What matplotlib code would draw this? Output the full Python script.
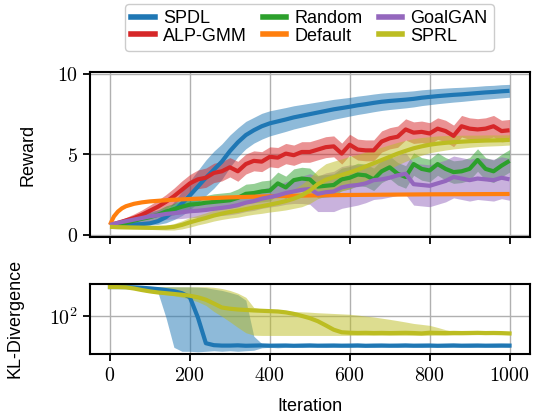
import numpy as np
import matplotlib
matplotlib.use("Agg")
import matplotlib.pyplot as plt
from matplotlib.ticker import FuncFormatter, FixedLocator, NullLocator
from matplotlib.lines import Line2D

plt.rcParams['font.family'] = ['Liberation Sans', 'DejaVu Sans']
plt.rcParams['mathtext.fontset'] = 'cm'

iterations = np.arange(0, 1001, 20)

spdl_mean = [0.62, 0.63, 0.64, 0.65, 0.67, 0.72, 0.85, 1.1, 1.5, 1.95, 2.45, 3.0, 3.55, 4.05, 4.55,
             5.2, 5.75, 6.2, 6.5, 6.75, 6.93, 7.05, 7.17, 7.3, 7.4, 7.5, 7.6, 7.7, 7.8, 7.88, 7.96,
             8.05, 8.12, 8.2, 8.27, 8.32, 8.36, 8.4, 8.45, 8.52, 8.57, 8.62, 8.66, 8.7, 8.73, 8.77,
             8.81, 8.85, 8.88, 8.92, 8.95]
spdl_std = [0.05, 0.06, 0.07, 0.08, 0.09, 0.1, 0.2, 0.35, 0.55, 0.75, 0.9, 1.0, 1.1, 1.15, 1.1,
            1.0, 0.9, 0.85, 0.8, 0.8, 0.78, 0.76, 0.74, 0.72, 0.7, 0.68, 0.66, 0.64, 0.62, 0.6, 0.58,
            0.57, 0.56, 0.55, 0.54, 0.53, 0.52, 0.51, 0.5, 0.49, 0.48, 0.47, 0.46, 0.45, 0.44, 0.43,
            0.42, 0.42, 0.41, 0.41, 0.4]

alp_mean = [0.62, 0.75, 0.9, 1.05, 1.25, 1.5, 1.75, 2.05, 2.4, 2.8, 3.2, 3.45, 3.55, 3.85, 3.95,
            4.2, 3.95, 4.4, 4.6, 4.55, 4.85, 4.8, 5.05, 4.95, 5.15, 5.15, 5.3, 5.45, 5.5, 5.05, 5.6,
            5.3, 5.25, 5.25, 5.8, 6.0, 6.1, 6.55, 6.35, 6.4, 6.3, 6.6, 6.45, 6.15, 6.75, 6.6, 6.55,
            6.6, 6.75, 6.45, 6.5]
alp_std = [0.05, 0.12, 0.18, 0.25, 0.3, 0.35, 0.4, 0.45, 0.5, 0.55, 0.55, 0.58, 0.6, 0.6, 0.6,
           0.6, 0.62, 0.62, 0.62, 0.62, 0.62, 0.63, 0.63, 0.63, 0.64, 0.64, 0.64, 0.65, 0.65, 0.65, 0.65,
           0.65, 0.65, 0.65, 0.66, 0.66, 0.66, 0.66, 0.67, 0.67, 0.67, 0.67, 0.67, 0.67, 0.67, 0.67,
           0.67, 0.67, 0.67, 0.67, 0.67]

random_mean = [0.6, 0.65, 0.75, 0.88, 1.0, 1.1, 1.25, 1.45, 1.6, 1.75, 1.88, 1.92, 2.0, 2.05, 2.1,
               2.15, 2.3, 2.55, 2.6, 2.7, 2.75, 3.2, 2.95, 3.4, 3.5, 3.45, 3.0, 3.05, 3.1, 3.45, 3.55,
               3.75, 3.7, 3.45, 3.95, 4.2, 3.8, 3.6, 4.4, 4.1, 4.0, 4.4, 4.1, 3.9, 3.95, 4.1, 4.65,
               4.1, 3.95, 4.3, 4.6]
random_std = [0.05, 0.1, 0.15, 0.2, 0.25, 0.3, 0.3, 0.35, 0.35, 0.4, 0.4, 0.45, 0.45, 0.5, 0.5,
              0.5, 0.55, 0.6, 0.6, 0.65, 0.65, 0.7, 0.7, 0.7, 0.7, 0.7, 0.7, 0.7, 0.7, 0.7, 0.7,
              0.7, 0.7, 0.7, 0.7, 0.7, 0.7, 0.7, 0.7, 0.7, 0.7, 0.7, 0.7, 0.7, 0.7, 0.7, 0.7,
              0.7, 0.7, 0.7, 0.7]

goalgan_mean = [0.62, 0.75, 0.85, 0.95, 1.05, 1.15, 1.22, 1.3, 1.35, 1.4, 1.47, 1.5, 1.55, 1.62, 1.68,
                1.75, 1.85, 2.0, 2.1, 2.25, 2.35, 2.45, 2.6, 2.7, 2.8, 2.85, 2.55, 2.65, 2.7, 2.95, 3.05,
                3.1, 3.2, 3.4, 3.45, 3.55, 3.7, 3.8, 3.15, 3.1, 3.05, 3.2, 3.35, 3.6, 3.5, 3.4, 3.5,
                3.45, 3.4, 3.55, 3.45]
goalgan_std = [0.05, 0.1, 0.15, 0.2, 0.25, 0.3, 0.32, 0.34, 0.36, 0.38, 0.4, 0.42, 0.44, 0.46, 0.48,
               0.5, 0.52, 0.55, 0.58, 0.6, 0.62, 0.65, 0.7, 0.75, 0.85, 0.95, 1.1, 1.2, 1.25, 1.3, 1.3,
               1.25, 1.2, 1.2, 1.2, 1.2, 1.25, 1.3, 1.3, 1.3, 1.3, 1.3, 1.3, 1.3, 1.3, 1.3, 1.3,
               1.3, 1.3, 1.3, 1.3]

sprl_mean = [0.5, 0.48, 0.47, 0.46, 0.45, 0.44, 0.44, 0.45, 0.5, 0.62, 0.78, 0.92, 1.05, 1.2, 1.32,
             1.42, 1.5, 1.6, 1.7, 1.78, 1.88, 1.98, 2.1, 2.25, 2.45, 2.75, 3.15, 3.42, 3.58, 3.72, 3.88,
             4.05, 4.25, 4.45, 4.65, 4.85, 5.05, 5.22, 5.38, 5.5, 5.6, 5.67, 5.72, 5.76, 5.79, 5.82,
             5.84, 5.86, 5.87, 5.88, 5.9]
sprl_std = [0.1, 0.1, 0.1, 0.1, 0.1, 0.1, 0.12, 0.15, 0.2, 0.25, 0.3, 0.3, 0.32, 0.34, 0.36,
            0.38, 0.4, 0.4, 0.42, 0.44, 0.46, 0.5, 0.55, 0.6, 0.7, 0.8, 0.9, 1.0, 1.0, 1.0, 1.0,
            0.95, 0.9, 0.85, 0.8, 0.75, 0.7, 0.65, 0.6, 0.55, 0.5, 0.48, 0.45, 0.42, 0.4, 0.38,
            0.36, 0.35, 0.34, 0.33, 0.32]

default_iter = [0, 5, 10, 20, 30, 40, 60, 80, 100, 150, 200, 300, 400, 500, 600, 700, 800, 900, 1000]
default_mean = [0.62, 0.9, 1.15, 1.45, 1.65, 1.78, 1.93, 2.02, 2.08, 2.17, 2.23, 2.33, 2.4, 2.45,
                2.48, 2.5, 2.52, 2.53, 2.54]
default_std = [0.03, 0.04, 0.05, 0.05, 0.05, 0.05, 0.05, 0.05, 0.05, 0.05, 0.05, 0.05, 0.05, 0.05,
               0.05, 0.05, 0.05, 0.05, 0.05]

kl_spdl_mean = [385, 385, 384, 380, 372, 362, 350, 335, 318, 290, 240, 95, 29, 26.5, 26, 26, 26.3,
                25.8, 26, 26.2, 25.9, 26, 26.1, 25.8, 26, 26.2, 25.9, 26, 26.1, 25.9, 26, 26.2, 25.8,
                26, 26.1, 25.9, 26, 26.2, 25.9, 26, 26.1, 25.8, 26, 26.2, 25.9, 26, 26.1, 25.9, 26,
                26.1, 26]
kl_spdl_low = [380, 380, 378, 372, 362, 345, 300, 95, 24, 20, 20, 19.5, 20, 20.5, 20, 20.5, 20,
               20.5, 21, 23.5, 24, 23.5, 24, 24.2, 23.8, 24, 24.3, 23.8, 24, 24.2, 23.9, 24, 24.1,
               23.8, 24, 24.2, 23.9, 24, 24.1, 23.8, 24, 24.2, 23.9, 24, 24.1, 23.8, 24, 24.2,
               23.9, 24, 24]
kl_spdl_high = [392, 392, 392, 391, 390, 390, 389, 389, 388, 387, 386, 383, 375, 350, 330, 300,
                270, 210, 40, 28.5, 28.5, 28.3, 28.6, 28.4, 28.5, 28.3, 28.6, 28.4, 28.5, 28.3, 28.6,
                28.4, 28.5, 28.3, 28.6, 28.4, 28.5, 28.3, 28.6, 28.4, 28.5, 28.3, 28.6, 28.4, 28.5,
                28.3, 28.6, 28.4, 28.5, 28.3, 28.5]

kl_sprl_mean = [385, 384, 380, 360, 335, 315, 300, 290, 280, 270, 258, 240, 215, 180, 150, 142, 137,
                134, 131, 129, 127, 125, 120, 112, 102, 92, 80, 66, 54, 48, 47, 46.5, 46.8, 46.3,
                46.6, 46.2, 46.5, 46.8, 46.3, 45.5, 47, 46.5, 46.2, 46.6, 46.3, 46.5, 46.8, 46.3,
                46.5, 46.2, 45.5]
kl_sprl_low = [380, 376, 370, 345, 320, 300, 285, 270, 258, 240, 220, 195, 165, 125, 100, 78, 60,
               47, 42, 41.5, 41.5, 41.5, 41.5, 41.5, 41.5, 41.5, 41.5, 41.5, 41.5, 41.5, 41.5, 41.5,
               41.5, 41.5, 41.5, 41.5, 41.5, 41.5, 41.5, 41.5, 41.5, 41.8, 42, 42.2, 42.5, 42.7,
               43, 43, 43, 43, 43]
kl_sprl_high = [392, 392, 392, 391, 391, 391, 390, 390, 390, 390, 390, 390, 390, 380, 360, 330,
                290, 240, 150, 140, 136, 132, 128, 125, 123, 121, 118, 116, 114, 112, 110, 106,
                101, 97, 92, 87, 82, 77, 72, 69, 66, 60, 54, 50, 48.5, 48.3, 48.2, 48.2, 48.2,
                48.2, 48.2]

xticks = [0, 200, 400, 600, 800, 1000]
reward_ticks = [0, 5, 10]

C = {'SPDL': '#1f77b4', 'ALP-GMM': '#d62728', 'Random': '#2ca02c', 'Default': '#ff7f0e',
     'GoalGAN': '#9467bd', 'SPRL': '#bcbd22'}

W, H = 534, 418
fig = plt.figure(figsize=(W / 100, H / 100), dpi=100)
ax1 = fig.add_axes([90 / W, 1 - 237.3 / H, 439.5 / W, 165 / H])
ax2 = fig.add_axes([90 / W, 1 - 353.7 / H, 439.5 / W, 70 / H])

LW = 3.0
series = [
    ('SPDL', iterations, spdl_mean, spdl_std),
    ('ALP-GMM', iterations, alp_mean, alp_std),
    ('Random', iterations, random_mean, random_std),
    ('Default', default_iter, default_mean, default_std),
    ('GoalGAN', iterations, goalgan_mean, goalgan_std),
    ('SPRL', iterations, sprl_mean, sprl_std),
]
for name, x, m, s in series:
    m = np.asarray(m); s = np.asarray(s)
    ax1.fill_between(x, m - s, m + s, color=C[name], alpha=0.5, lw=0)
    ax1.plot(x, m, color=C[name], lw=LW, solid_capstyle='butt')

ax2.fill_between(iterations, kl_spdl_low, kl_spdl_high, color=C['SPDL'], alpha=0.5, lw=0)
ax2.plot(iterations, kl_spdl_mean, color=C['SPDL'], lw=LW)
ax2.fill_between(iterations, kl_sprl_low, kl_sprl_high, color=C['SPRL'], alpha=0.5, lw=0)
ax2.plot(iterations, kl_sprl_mean, color=C['SPRL'], lw=LW)

fmt = FuncFormatter(lambda v, p: r'$%d$' % int(round(v)))
for ax in (ax1, ax2):
    ax.set_xlim(-50, 1050)
    ax.xaxis.set_major_locator(FixedLocator(xticks))
    ax.grid(True, color='#b0b0b0', lw=1.0)
    ax.set_axisbelow(True)
    for sp in ax.spines.values():
        sp.set_linewidth(1.5)
    ax.tick_params(direction='out', length=5, width=1.3, labelsize=14.4)

ax1.set_ylim(-0.15, 10.1)
ax1.yaxis.set_major_locator(FixedLocator(reward_ticks))
ax1.yaxis.set_major_formatter(fmt)
ax1.tick_params(axis='x', labelbottom=False)
ax1.set_ylabel('Reward', fontsize=13)
ax1.yaxis.set_label_coords(-0.121, 0.5)

ax2.set_yscale('log')
ax2.set_ylim(17.9, 449)
ax2.yaxis.set_major_locator(FixedLocator([100]))
ax2.yaxis.set_minor_locator(NullLocator())
ax2.yaxis.set_major_formatter(FuncFormatter(lambda v, p: r'$10^{%d}$' % int(round(np.log10(v)))))
ax2.xaxis.set_major_formatter(fmt)
ax2.set_ylabel('KL-Divergence', fontsize=13)
ax2.yaxis.set_label_coords(-0.151, 0.5)
ax2.set_xlabel('Iteration', fontsize=13)
ax2.xaxis.set_label_coords(0.5, -0.64)

handles = [Line2D([], [], color=C[n], lw=4) for n, *_ in series]
labels = [n for n, *_ in series]
fig.legend(handles, labels, loc='upper center', bbox_to_anchor=(309.5 / W, 1 - 4 / H),
           ncol=3, fontsize=13, handlelength=1.3, handletextpad=0.45, columnspacing=0.9,
           labelspacing=0.02, borderpad=0.35, borderaxespad=0.0, frameon=True, fancybox=True,
           edgecolor='#cccccc', framealpha=1.0)

fig.savefig('out.png', dpi=100)
